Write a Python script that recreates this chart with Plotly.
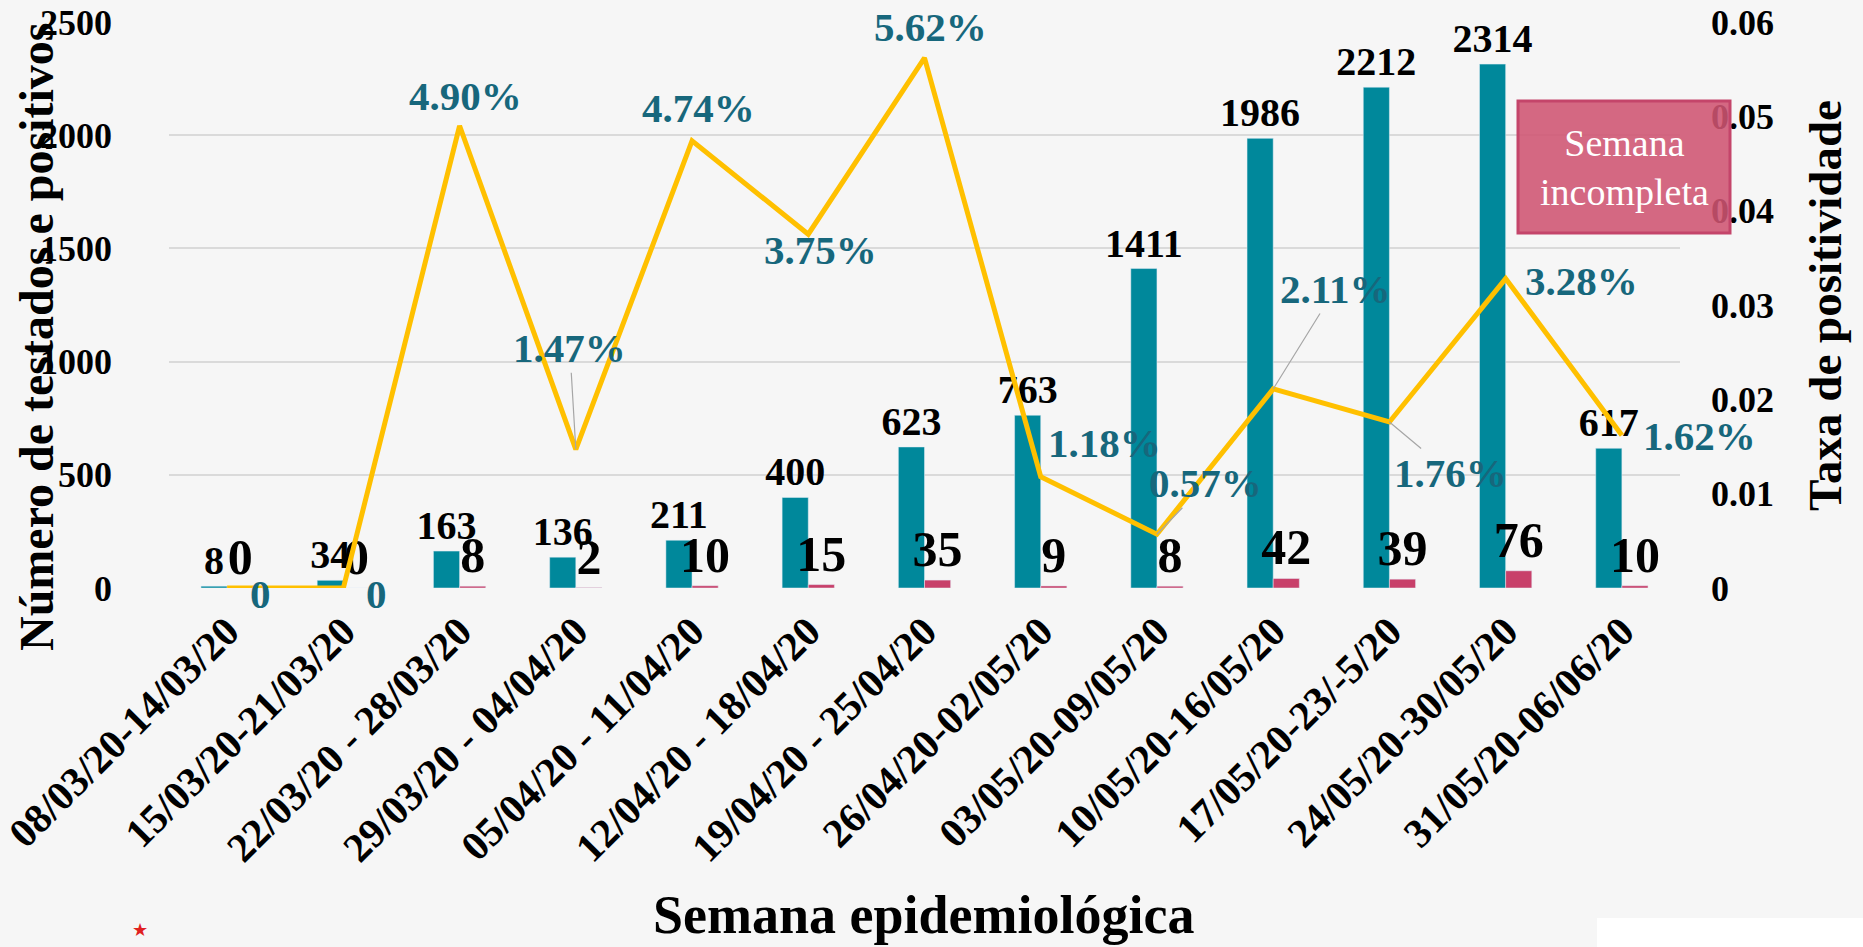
import plotly.graph_objects as go

categories = ["08/03/20-14/03/20", "15/03/20-21/03/20", "22/03/20 - 28/03/20",
              "29/03/20 - 04/04/20", "05/04/20 - 11/04/20", "12/04/20 - 18/04/20",
              "19/04/20 - 25/04/20", "26/04/20-02/05/20", "03/05/20-09/05/20",
              "10/05/20-16/05/20", "17/05/20-23/-5/20", "24/05/20-30/05/20",
              "31/05/20-06/06/20"]
testados = [8, 34, 163, 136, 211, 400, 623, 763, 1411, 1986, 2212, 2314, 617]
positivos = [0, 0, 8, 2, 10, 15, 35, 9, 8, 42, 39, 76, 10]
taxa = [0, 0, 0.0490, 0.0147, 0.0474, 0.0375, 0.0562, 0.0118, 0.0057,
        0.0211, 0.0176, 0.0328, 0.0162]
taxa_labels = ["0", "0", "4.90%", "1.47%", "4.74%", "3.75%", "5.62%", "1.18%",
               "0.57%", "2.11%", "1.76%", "3.28%", "1.62%"]
left_ticks = [0, 500, 1000, 1500, 2000, 2500]
right_ticks = [0, 0.01, 0.02, 0.03, 0.04, 0.05, 0.06]
right_ticktext = ["0", "0.01", "0.02", "0.03", "0.04", "0.05", "0.06"]

# label offsets in screen pixels (dx right, dy down), leader line flag
label_offsets = [(33, 6, False), (33, 6, False), (6, -30, False), (-6, -101, True),
                 (6, -33, False), (12, 16, False), (6, -31, False), (64, -34, False),
                 (49, -51, True), (62, -100, True), (61, 51, True), (76, 2, False),
                 (78, 1, False)]

FONT = "Liberation Serif"
TEAL = "#00889B"
RED = "#C8406A"
GOLD = "#FFC000"
PCT = "#17677C"

L, R, T, B = 169, 1680, 22, 588
W, H = R - L, B - T


def px(x):
    return (x - L) / W


def py(y):
    return (B - y) / H


fig = go.Figure()
fig.add_trace(go.Bar(x=categories, y=testados, name="Testados", marker_color=TEAL,
                     text=[str(v) for v in testados], textposition="outside",
                     constraintext="none",
                     textfont=dict(family=FONT, size=40, color="black", weight="bold"),
                     cliponaxis=False))
fig.add_trace(go.Bar(x=categories, y=positivos, name="Positivos", marker_color=RED,
                     text=[str(v) for v in positivos], textposition="outside",
                     constraintext="none",
                     textfont=dict(family=FONT, size=50, color="black", weight="bold"),
                     cliponaxis=False))
fig.add_trace(go.Scatter(x=categories, y=taxa, yaxis="y2", mode="lines",
                         line=dict(color=GOLD, width=5), name="Taxa",
                         cliponaxis=False))

for c, v, t, (dx, dy, lead) in zip(categories, taxa, taxa_labels, label_offsets):
    if lead:
        fig.add_annotation(x=c, y=v, xref="x", yref="y2", text=t,
                           showarrow=True, arrowhead=0, arrowwidth=1.2,
                           arrowcolor="#A6A6A6", ax=dx, ay=dy,
                           font=dict(family=FONT, size=41, color=PCT, weight="bold"))
    else:
        fig.add_annotation(x=c, y=v, xref="x", yref="y2", text=t,
                           showarrow=False, xshift=dx, yshift=-dy,
                           xanchor="center", yanchor="middle",
                           font=dict(family=FONT, size=41, color=PCT, weight="bold"))

# axis titles
fig.add_annotation(xref="paper", yref="paper", x=px(36), y=py(337),
                   xanchor="center", yanchor="middle",
                   text="Número de testados e positivos", showarrow=False, textangle=-90,
                   font=dict(family=FONT, size=48, color="black", weight="bold"))
fig.add_annotation(xref="paper", yref="paper", x=px(1825), y=py(306),
                   xanchor="center", yanchor="middle",
                   text="Taxa de positividade", showarrow=False, textangle=-90,
                   font=dict(family=FONT, size=47, color="black", weight="bold"))
fig.add_annotation(xref="paper", yref="paper", x=px(923), y=py(915),
                   xanchor="center", yanchor="middle",
                   text="Semana epidemiológica", showarrow=False,
                   font=dict(family=FONT, size=54, color="black", weight="bold"))

# "Semana incompleta" box
fig.add_shape(type="rect", xref="paper", yref="paper",
              x0=px(1518), x1=px(1730), y0=py(233), y1=py(101),
              fillcolor="rgba(207,84,114,0.88)", line=dict(color="#C4456A", width=3))
fig.add_annotation(xref="paper", yref="paper", x=px(1624), y=py(167),
                   xanchor="center", yanchor="middle",
                   text="Semana<br>incompleta", showarrow=False,
                   font=dict(family=FONT, size=38, color="white"))

# white patch bottom-right
fig.add_shape(type="rect", xref="paper", yref="paper",
              x0=px(1597), x1=px(1863), y0=py(947), y1=py(918),
              fillcolor="white", line=dict(width=0), layer="below")
# logo star
fig.add_annotation(xref="paper", yref="paper", x=px(140), y=py(930),
                   xanchor="center", yanchor="middle",
                   text="★", showarrow=False, font=dict(size=18, color="#E02020"))

fig.update_layout(
    width=1863, height=947,
    margin=dict(l=L, r=1863 - R, t=T, b=947 - B),
    paper_bgcolor="#F6F6F6", plot_bgcolor="#F6F6F6",
    barmode="group", bargap=0.55, bargroupgap=0,
    showlegend=False,
    font=dict(family=FONT, color="black"),
    xaxis=dict(tickangle=-45, automargin=False, range=[-0.5, len(categories) - 0.5],
               tickfont=dict(family=FONT, size=41, color="black", weight="bold"),
               showgrid=False, showline=False, ticks="", ticklabelstandoff=10),
    yaxis=dict(range=[0, 2500], tickvals=left_ticks, showgrid=True, gridcolor="#DADADA",
               gridwidth=1.5, zeroline=False, showline=False, automargin=False,
               tickfont=dict(family=FONT, size=36, color="black", weight="bold"),
               ticklabelstandoff=56),
    yaxis2=dict(range=[0, 0.06], tickvals=right_ticks, ticktext=right_ticktext,
                overlaying="y", side="right", showgrid=False, zeroline=False,
                automargin=False,
                tickfont=dict(family=FONT, size=36, color="black", weight="bold"),
                ticklabelstandoff=30),
)

fig.write_html("out.html", config={"displayModeBar": False},
               post_script="document.body.style.margin='0px';")
